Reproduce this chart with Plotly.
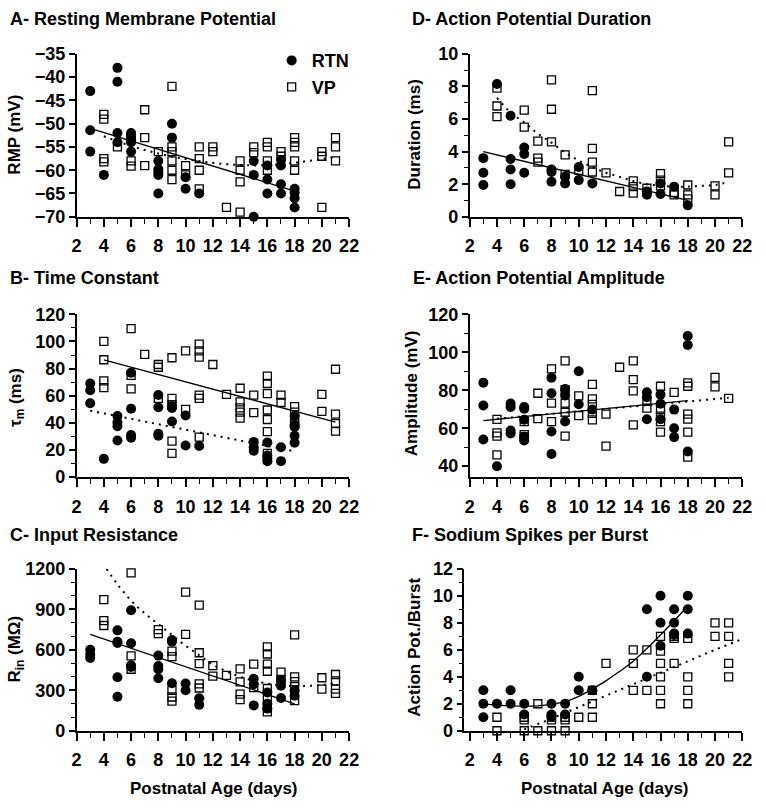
import plotly.graph_objects as go
from plotly.subplots import make_subplots

# ---------------- data ----------------
day_ticks = list(range(2, 23, 2))

# A - Resting membrane potential (mV)
A_rtn = {3: [-43, -51.4, -56], 4: [-61], 5: [-38, -41, -52, -54],
         6: [-52, -52.6, -53.4, -54, -56], 8: [-58, -59.8, -60.5, -61, -65],
         9: [-50, -53], 10: [-61.5, -64], 11: [-65], 15: [-58, -61, -70],
         16: [-59, -62, -65], 17: [-57.8, -59, -63, -65], 18: [-64, -64.8, -66, -68]}
A_vp = {4: [-48, -49, -57.5, -58.2], 5: [-55], 6: [-53, -58, -59.1], 7: [-47, -53, -59],
        8: [-56], 9: [-42, -55, -56, -58, -60, -62], 10: [-59, -61],
        11: [-55, -57.5, -60, -64], 12: [-55, -56], 13: [-68], 14: [-58, -60, -62.5, -69],
        15: [-55, -56.2], 16: [-54, -55, -58, -60], 17: [-56, -57],
        18: [-53, -54, -55, -58, -60], 20: [-56, -57, -68], 21: [-53, -55, -58]}
A_rtn_fit_x = [3, 18]
A_rtn_fit_y = [-51, -64.5]
A_vp_fit_x = [4, 6, 8, 10, 12, 14, 16, 18, 20, 21]
A_vp_fit_y = [-52.7, -54.8, -56.4, -57.6, -58.4, -58.9, -58.9, -58.4, -57.6, -57.1]

# D - Action potential duration (ms)
D_rtn = {3: [3.6, 2.7, 1.95], 4: [8.15], 5: [6.2, 3.55, 2.9, 2.0], 6: [4.25, 3.85, 2.7],
         8: [2.9, 2.75, 2.15], 9: [2.45, 2.05], 10: [3.05, 2.25], 11: [2.05],
         15: [1.35, 1.55], 16: [2.05, 1.4], 17: [1.85], 18: [0.7]}
D_vp = {4: [7.9, 6.8, 6.15], 6: [6.55, 5.5], 7: [4.65, 3.6, 3.35], 8: [8.4, 6.6, 4.6],
        9: [3.8, 2.6], 10: [2.85], 11: [7.75, 4.2, 3.35, 2.75], 12: [2.7], 13: [1.55],
        14: [2.2, 1.85, 1.45], 15: [1.75], 16: [2.65, 2.25, 1.9], 17: [1.5, 1.35],
        18: [1.95, 1.35, 1.1], 20: [1.9, 1.35], 21: [4.6, 2.7]}
D_rtn_fit_x = [3, 18]
D_rtn_fit_y = [4.0, 1.0]
D_vp_fit_x = [4, 5, 6, 7, 8, 9, 10, 11, 12, 13, 14, 15, 16, 17, 18, 19, 20, 21]
D_vp_fit_y = [7.3, 6.4, 5.8, 5.1, 4.55, 3.95, 3.45, 3.05, 2.7, 2.45, 2.2, 2.0,
              1.9, 1.85, 1.85, 1.9, 1.95, 2.15]

# B - Time constant (ms)
B_rtn = {3: [69, 64, 54.5], 4: [13.5], 5: [45, 40.5, 37.5, 27], 6: [77, 50.5, 31, 29],
         8: [60.5, 51.5, 32, 30.5], 9: [52.5, 51, 41], 10: [45.5, 23.3], 11: [23],
         15: [26, 22, 19.5], 16: [25.5, 16, 13.5, 11.8], 17: [22, 11.8],
         18: [45, 38.5, 37, 30.5, 25.3]}
B_vp = {4: [100, 86.5, 71, 66], 6: [109.5, 75, 65], 7: [90.5], 8: [83, 81, 58],
        9: [88, 58, 53.5, 26.5, 17.5], 10: [93, 50], 11: [98, 93, 88.5, 60.5, 58, 29.5],
        12: [83], 13: [61], 14: [65.5, 55.5, 51, 48, 43.5], 15: [60.5, 47.5],
        16: [74.5, 69, 61.5, 49.5, 42.5, 33.5, 17.5], 17: [60.5, 55],
        18: [52, 48, 43, 39.5], 20: [61, 48.5], 21: [79.5, 46.5, 39.5, 34]}
B_vp_fit_x = [4, 21]
B_vp_fit_y = [86.5, 40.5]
B_rtn_fit_x = [3, 18]
B_rtn_fit_y = [49, 19]

# E - Action potential amplitude (mV)
E_rtn = {3: [84, 72, 54], 4: [40], 5: [73, 71.2, 58.8, 57.2], 6: [71.2, 70.3, 64.5, 55.5, 53.5],
         8: [86.6, 78.4, 58.3, 46.4], 9: [80.6, 77.2, 63.5], 10: [90, 72.6], 11: [69.8],
         15: [78.9, 76.3, 64.7], 16: [77.7, 72.9, 64.7], 17: [69.8, 60, 55.3],
         18: [108.6, 103.8, 47.7]}
E_vp = {4: [64.7, 57.5, 55.8, 46], 6: [63.5, 56.6, 55.4], 7: [78.4, 65], 8: [91.3, 73.2, 63.5],
        9: [95.5, 80.3, 73.2, 68.4, 55.8], 10: [77, 66.6], 11: [83.1, 75.5, 72.5, 67.8, 64.4],
        12: [67.4, 50.6], 13: [92.1], 14: [95.5, 85.6, 79.7, 61.8], 15: [74.2, 70.6],
        16: [82.1, 69.8, 66.4, 63.5, 57.9], 17: [78.9], 18: [83.9, 82.1, 67.4, 64.8, 57.9, 44.8],
        20: [86.8, 81.8], 21: [75.7]}
E_rtn_fit_x = [3, 18]
E_rtn_fit_y = [64, 74.5]
E_vp_fit_x = [4, 21]
E_vp_fit_y = [65, 76]

# C - Input resistance (MOhm)
C_rtn = {3: [600, 565, 540], 5: [744, 660, 650, 396, 252], 6: [893, 648, 485, 473],
         8: [557, 480, 456, 389], 9: [672, 660, 352], 10: [350, 300], 11: [240, 192],
         15: [386, 345, 188], 16: [284, 200, 164], 17: [374, 333, 243], 18: [296, 260]}
C_vp = {4: [972, 816, 780], 6: [1170, 555, 456], 8: [750, 720], 9: [590, 550, 300, 250, 220],
        10: [1027, 715], 11: [931, 578, 497, 348, 317], 12: [482, 405], 13: [410],
        14: [458, 362, 272, 231], 15: [494, 320], 16: [622, 569, 494, 441, 313, 248, 176, 140],
        17: [434, 381], 18: [711, 400, 364, 328, 224], 20: [393, 308], 21: [417, 369, 308, 277]}
C_rtn_fit_x = [3, 18]
C_rtn_fit_y = [715, 200]
C_vp_fit_x = [4.2, 5, 6, 7, 8, 9, 10, 11, 12, 13, 14, 15, 16, 17, 18, 19, 20, 21]
C_vp_fit_y = [1200, 1085, 965, 870, 790, 710, 630, 560, 490, 440, 400, 370,
              350, 335, 330, 332, 340, 350]

# F - Sodium spikes per burst
F_rtn = {3: [3, 2, 1], 4: [2], 5: [3, 2], 6: [2, 1.2], 8: [2, 1.2, 1.05], 9: [2, 1.2],
         10: [4, 3], 11: [3], 15: [9, 4], 16: [10, 8, 6.3], 17: [9, 8, 7.2, 7.1],
         18: [10, 9, 7.2]}
F_vp = {4: [1, 0], 6: [1, 0.8, 0], 7: [2, 0], 8: [1, 0.8, 0], 9: [1, 0.8, 0], 10: [1],
        11: [3, 2, 1], 12: [5], 14: [6, 5, 3], 15: [6, 3], 16: [7, 5.9, 5, 4, 3, 2],
        17: [7, 6.85, 5], 18: [6.85, 4, 3, 2], 20: [8, 7], 21: [8, 7, 5, 4]}
F_rtn_fit_x = [3, 4, 5, 6, 7, 8, 9, 10, 11, 12, 13, 14, 15, 16, 17, 18]
F_rtn_fit_y = [2.0, 1.9, 1.85, 1.82, 1.85, 1.95, 2.15, 2.55, 3.1, 3.7, 4.4, 5.15,
               6.1, 7.1, 8.15, 9.25]
F_vp_fit_x = [6, 8, 10, 12, 14, 16, 18, 20, 22]
F_vp_fit_y = [0.1, 0.9, 1.75, 2.6, 3.45, 4.3, 5.15, 6.0, 6.8]

# ---------------- figure ----------------
FONT = "Liberation Sans, Arial, sans-serif"


def expand(d):
    xs, ys = [], []
    for k, vals in d.items():
        for v in vals:
            xs.append(k)
            ys.append(v)
    return xs, ys


panels = [
    dict(r=1, c=1, rtn=A_rtn, vp=A_vp, rf=(A_rtn_fit_x, A_rtn_fit_y), vf=(A_vp_fit_x, A_vp_fit_y),
         rdot=False, yr=[-70, -35], dt=5, mdt=None, xr=[2, 22]),
    dict(r=1, c=2, rtn=D_rtn, vp=D_vp, rf=(D_rtn_fit_x, D_rtn_fit_y), vf=(D_vp_fit_x, D_vp_fit_y),
         rdot=False, yr=[0, 10], dt=2, mdt=1, xr=[2, 22]),
    dict(r=2, c=1, rtn=B_rtn, vp=B_vp, rf=(B_rtn_fit_x, B_rtn_fit_y), vf=(B_vp_fit_x, B_vp_fit_y),
         rdot=True, yr=[0, 120], dt=20, mdt=10, xr=[2, 22]),
    dict(r=2, c=2, rtn=E_rtn, vp=E_vp, rf=(E_rtn_fit_x, E_rtn_fit_y), vf=(E_vp_fit_x, E_vp_fit_y),
         rdot=False, yr=[34.2, 120], dt=20, mdt=10, xr=[2, 22]),
    dict(r=3, c=1, rtn=C_rtn, vp=C_vp, rf=(C_rtn_fit_x, C_rtn_fit_y), vf=(C_vp_fit_x, C_vp_fit_y),
         rdot=False, yr=[0, 1200], dt=300, mdt=100, xr=[2, 22]),
    dict(r=3, c=2, rtn=F_rtn, vp=F_vp, rf=(F_rtn_fit_x, F_rtn_fit_y), vf=(F_vp_fit_x, F_vp_fit_y),
         rdot=False, yr=[0, 12], dt=2, mdt=1, xr=[1.6, 22]),
]

fig = make_subplots(rows=3, cols=2)

W, H = 766, 810
col_px = {1: (73, 351), 2: (474, 752)}
row_px = {1: (45, 212), 2: (312, 479), 3: (573, 739)}

SOLID = dict(color="black", width=1.3)
DOT = dict(color="black", width=2, dash="2px,5px")

for i, p in enumerate(panels):
    first = (i == 0)
    vx, vy = expand(p["vp"])
    rx, ry = expand(p["rtn"])
    fig.add_trace(go.Scatter(x=p["rf"][0], y=p["rf"][1], mode="lines",
                             line=DOT if p["rdot"] else SOLID, line_shape="spline",
                             showlegend=False, hoverinfo="skip"), row=p["r"], col=p["c"])
    fig.add_trace(go.Scatter(x=p["vf"][0], y=p["vf"][1], mode="lines",
                             line=SOLID if p["rdot"] else DOT, line_shape="spline",
                             showlegend=False, hoverinfo="skip"), row=p["r"], col=p["c"])
    fig.add_trace(go.Scatter(x=vx, y=vy, mode="markers", name="VP",
                             marker=dict(symbol="square-open", size=8, color="black",
                                         line=dict(width=1.3, color="black")),
                             showlegend=first, legendrank=2, cliponaxis=False),
                  row=p["r"], col=p["c"])
    fig.add_trace(go.Scatter(x=rx, y=ry, mode="markers", name="RTN",
                             marker=dict(symbol="circle", size=10, color="black"),
                             showlegend=first, legendrank=1, cliponaxis=False),
                  row=p["r"], col=p["c"])

    x0, x1 = col_px[p["c"]]
    if p["xr"][0] < 2:
        x0 = x0 - (2 - p["xr"][0]) * (x1 - x0) / 20.0
    y0, y1 = row_px[p["r"]]
    axis_common = dict(showline=True, linecolor="black", linewidth=1.5, showgrid=False,
                       zeroline=False, ticks="outside", tickcolor="black", tickwidth=1.5,
                       tickfont=dict(family=FONT, size=18, color="black", weight="bold"))
    fig.update_xaxes(domain=[x0 / W, x1 / W], range=p["xr"], tickvals=day_ticks,
                     ticklen=8, ticklabelstandoff=4,
                     minor=dict(ticks="outside", ticklen=5, tickwidth=1.3, tickcolor="black",
                                tickvals=list(range(3, 22, 2))),
                     **axis_common, row=p["r"], col=p["c"])
    ykw = dict(domain=[1 - y1 / H, 1 - y0 / H], range=p["yr"], dtick=p["dt"],
               tick0=0, ticklen=6, ticklabelstandoff=0, **axis_common)
    if p["mdt"]:
        ykw["minor"] = dict(ticks="outside", ticklen=4, tickwidth=1.3, tickcolor="black",
                            dtick=p["mdt"])
    fig.update_yaxes(row=p["r"], col=p["c"], **ykw)

# ---------------- text ----------------
titles = [("A- Resting Membrane Potential", 3, 5), ("D- Action Potential Duration", 413, 5),
          ("B- Time Constant", 3, 270), ("E- Action Potential Amplitude", 414, 270),
          ("C- Input Resistance", 3, 534), ("F- Sodium Spikes per Burst", 413, 534)]
ytitles = [("RMP (mV)", 10, 128), ("Duration (ms)", 418, 127),
           ("τ<sub>m</sub> (ms)", 12, 397), ("Amplitude (mV)", 414, 393),
           ("R<sub>in</sub> (MΩ)", 11, 655), ("Action Pot./Burst", 418, 653)]
xtitles = [("Postnatal Age (days)", 213, 798), ("Postnatal Age (days)", 612, 798)]

anns = []
for t, x, y in titles:
    anns.append(dict(text=t, x=x / W, y=1 - (y - 8) / H, xref="paper", yref="paper",
                     xanchor="left", yanchor="top", showarrow=False,
                     font=dict(family=FONT, size=18, color="black", weight="bold")))
for t, x, y in ytitles:
    anns.append(dict(text=t, x=x / W, y=1 - y / H, xref="paper", yref="paper",
                     xanchor="center", yanchor="middle", textangle=-90, showarrow=False,
                     font=dict(family=FONT, size=17, color="black", weight="bold")))
for t, x, y in xtitles:
    anns.append(dict(text=t, x=x / W, y=1 - y / H, xref="paper", yref="paper",
                     xanchor="center", yanchor="middle", showarrow=False,
                     font=dict(family=FONT, size=17, color="black", weight="bold")))

fig.update_layout(
    width=W, height=H, margin=dict(l=0, r=0, t=0, b=0),
    paper_bgcolor="white", plot_bgcolor="white",
    annotations=anns,
    legend=dict(x=272 / W, y=1 - 33 / H, xanchor="left", yanchor="top",
                font=dict(family=FONT, size=18, color="black", weight="bold"),
                bgcolor="rgba(0,0,0,0)", itemwidth=30, tracegroupgap=0),
)

fig.write_html("out.html", config={"displayModeBar": False},
               post_script="document.body.style.margin='0px';")
